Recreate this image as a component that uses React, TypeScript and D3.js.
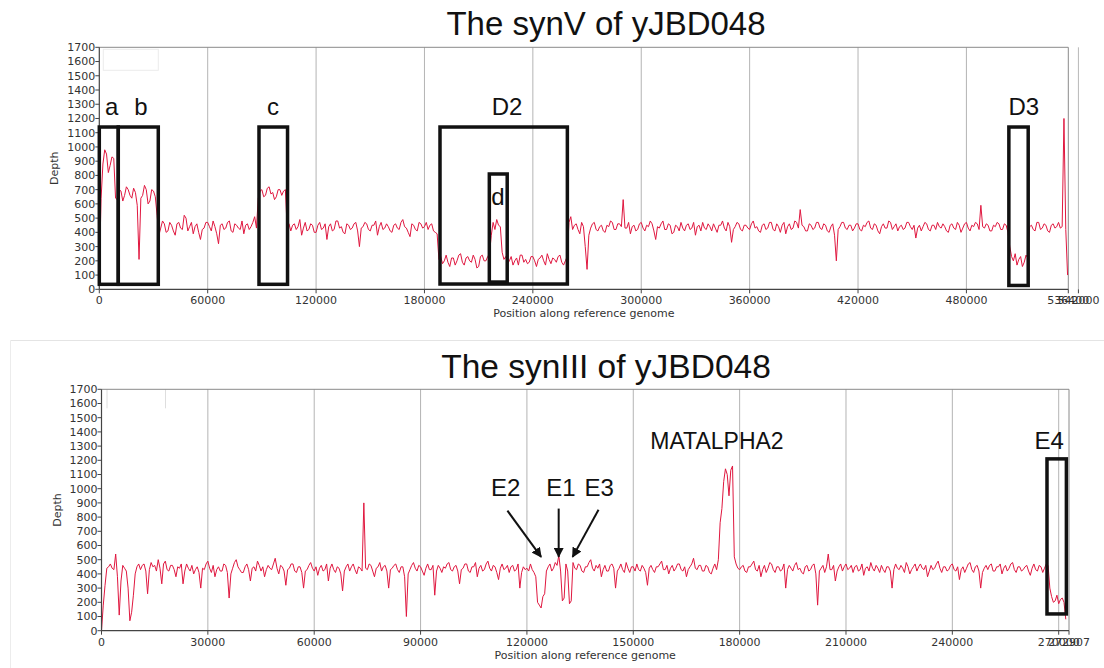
import React from 'react';
import * as d3 from 'd3';

// Shared depth axis
const DEPTH_MAX = 1700;
const DEPTH_TICKS = d3.range(0, DEPTH_MAX + 1, 100);

// synV read depth, one value every 1 kb
const SYNV_STEP = 1000;
const SYNV_LENGTH = 536400;
const synVDepth = [
  120, 640, 880, 980, 950, 820, 870, 930, 920, 640, 630, 700, 690, 620, 660, 720, 700, 660, 640, 710,
  680, 590, 210, 640, 660, 730, 700, 600, 620, 700, 690, 650, 520, 380, 430, 480, 460, 400, 410, 470,
  450, 410, 380, 460, 470, 430, 420, 520, 500, 410, 440, 470, 390, 440, 460, 400, 350, 420, 430, 470,
  470, 440, 410, 480, 440, 390, 320, 450, 460, 420, 430, 470, 480, 410, 400, 460, 450, 430, 420, 480,
  390, 450, 460, 420, 440, 470, 510, 430, 640, 690, 700, 650, 660, 710, 720, 670, 680, 630, 650, 700,
  700, 660, 690, 700, 430, 460, 410, 450, 460, 420, 440, 490, 380, 430, 470, 410, 420, 460, 450, 400,
  400, 450, 470, 420, 430, 460, 350, 440, 460, 410, 420, 480, 480, 430, 440, 400, 390, 460, 450, 420,
  430, 460, 470, 410, 300, 430, 440, 470, 460, 420, 410, 450, 450, 480, 380, 440, 470, 420, 430, 460,
  440, 410, 400, 450, 460, 430, 420, 470, 490, 440, 430, 400, 370, 460, 450, 420, 410, 470, 460, 430,
  440, 470, 420, 450, 460, 410, 400, 390, 210, 230, 180, 200, 240, 190, 160, 220, 220, 170, 200, 240,
  250, 190, 170, 220, 230, 200, 190, 240, 210, 150, 160, 230, 240, 200, 200, 230, 250, 380, 470, 420,
  490, 450, 440, 260, 210, 230, 180, 200, 230, 170, 200, 220, 170, 240, 240, 190, 210, 180, 190, 230,
  230, 200, 160, 210, 220, 240, 200, 170, 250, 210, 180, 220, 210, 190, 230, 240, 190, 170, 200, 230,
  470, 510, 420, 450, 460, 420, 390, 470, 440, 300, 140, 380, 430, 460, 470, 420, 410, 440, 450, 410,
  400, 450, 440, 480, 470, 420, 420, 460, 460, 440, 630, 430, 430, 470, 390, 440, 450, 410, 420, 460,
  470, 430, 410, 450, 440, 480, 460, 410, 350, 440, 430, 460, 480, 420, 420, 460, 450, 390, 400, 450,
  440, 410, 470, 430, 410, 450, 460, 420, 430, 470, 380, 440, 450, 410, 470, 430, 420, 460, 440, 410,
  460, 430, 400, 450, 450, 480, 430, 410, 470, 440, 330, 420, 440, 470, 460, 420, 410, 450, 450, 430,
  420, 460, 480, 430, 440, 410, 400, 450, 460, 420, 430, 470, 470, 420, 410, 460, 440, 400, 450, 470,
  390, 440, 460, 420, 430, 480, 470, 430, 560, 450, 440, 410, 410, 460, 450, 420, 430, 470, 470, 430,
  420, 460, 450, 410, 400, 440, 460, 380, 200, 420, 440, 470, 470, 430, 420, 450, 450, 410, 430, 460,
  460, 420, 410, 450, 440, 470, 480, 430, 420, 460, 450, 410, 390, 440, 460, 430, 430, 480, 470, 420,
  440, 460, 410, 440, 450, 420, 430, 470, 470, 440, 420, 450, 360, 430, 450, 410, 440, 470, 460, 420,
  410, 450, 450, 420, 470, 440, 430, 460, 440, 410, 400, 450, 460, 430, 420, 470, 450, 400, 430, 460,
  470, 430, 410, 450, 440, 470, 460, 420, 590, 440, 430, 460, 450, 410, 410, 450, 440, 470, 460, 420,
  420, 460, 450, 400, 300, 230, 200, 250, 170, 210, 230, 160, 190, 240, 220, 440, 450, 420, 410, 470,
  470, 420, 430, 460, 450, 410, 400, 450, 460, 430, 440, 470, 430, 440, 1200, 420, 100,
];
const synVTicks = [0, 60000, 120000, 180000, 240000, 300000, 360000, 420000, 480000];
const synVEndTicks = [536400, 542000];
const synVBoxes = [
  { label: 'a', start: 0, end: 10500, top: 1140, bottom: 35, labelPos: 6900, labelDepth: 1224 },
  { label: 'b', start: 10500, end: 32650, top: 1140, bottom: 35, labelPos: 23100, labelDepth: 1224 },
  { label: 'c', start: 88400, end: 104200, top: 1140, bottom: 35, labelPos: 96200, labelDepth: 1224 },
  { label: 'D2', start: 188600, end: 259100, top: 1140, bottom: 37, labelPos: 225700, labelDepth: 1224 },
  { label: 'd', start: 215900, end: 225800, top: 810, bottom: 51, labelPos: 220700, labelDepth: 590 },
  { label: 'D3', start: 503500, end: 514200, top: 1140, bottom: 27, labelPos: 511800, labelDepth: 1224 },
];

// synIII read depth, one value every 500 bp
const SYNIII_STEP = 500;
const SYNIII_LENGTH = 272907;
const synIIIDepth = [
  0, 180, 320, 440, 450, 470, 440, 430, 540, 380, 110, 350, 460, 440, 420, 300, 70, 130, 250, 400,
  450, 470, 430, 460, 470, 420, 260, 430, 480, 450, 460, 420, 500, 440, 330, 470, 490, 430, 420, 460,
  460, 430, 380, 450, 440, 470, 330, 420, 470, 440, 420, 460, 400, 430, 450, 410, 300, 440, 430, 470,
  490, 440, 410, 460, 380, 430, 450, 420, 420, 470, 460, 410, 230, 400, 440, 480, 500, 450, 430, 410,
  410, 450, 470, 430, 350, 440, 450, 420, 490, 460, 420, 450, 380, 430, 460, 440, 430, 470, 510, 440,
  400, 460, 450, 420, 320, 430, 440, 470, 470, 420, 410, 450, 450, 410, 300, 420, 430, 460, 480, 440,
  420, 450, 390, 440, 460, 420, 430, 470, 350, 440, 470, 430, 410, 450, 440, 400, 280, 420, 450, 470,
  420, 450, 470, 430, 400, 450, 440, 420, 900, 440, 430, 470, 460, 420, 380, 440, 450, 480, 420, 450,
  460, 420, 300, 430, 440, 460, 470, 430, 410, 450, 450, 380, 100, 400, 430, 460, 480, 440, 420, 460,
  450, 420, 390, 440, 470, 430, 430, 460, 250, 420, 460, 440, 410, 450, 440, 470, 480, 430, 420, 450,
  460, 420, 330, 430, 440, 470, 470, 420, 410, 450, 450, 480, 380, 440, 460, 420, 430, 470, 490, 440,
  420, 460, 450, 410, 360, 440, 470, 430, 440, 460, 410, 450, 460, 420, 430, 470, 300, 410, 450, 430,
  440, 420, 470, 430, 410, 380, 200, 180, 160, 240, 260, 420, 450, 470, 420, 440, 480, 460, 530, 420,
  210, 230, 470, 420, 190, 210, 480, 440, 430, 470, 460, 420, 410, 450, 450, 480, 500, 440, 420, 460,
  440, 470, 380, 430, 460, 420, 420, 460, 470, 440, 300, 420, 440, 470, 430, 410, 480, 440, 410, 450,
  450, 420, 470, 430, 420, 460, 440, 410, 320, 440, 460, 430, 410, 450, 450, 470, 490, 430, 430, 460,
  400, 440, 460, 420, 440, 470, 470, 430, 420, 450, 380, 430, 450, 470, 510, 440, 430, 460, 460, 420,
  420, 460, 450, 410, 400, 440, 470, 430, 500, 760, 860, 1050, 1140, 1100, 950, 1130, 1160, 520, 470, 440,
  430, 450, 460, 420, 410, 450, 450, 470, 490, 430, 420, 460, 380, 430, 460, 410, 440, 480, 470, 430,
  410, 450, 450, 420, 430, 470, 300, 430, 460, 440, 420, 460, 480, 430, 440, 410, 400, 450, 460, 420,
  430, 460, 470, 400, 180, 420, 440, 460, 410, 450, 540, 430, 430, 460, 350, 420, 450, 470, 420, 450,
  470, 430, 440, 460, 410, 450, 460, 420, 430, 470, 390, 440, 450, 420, 480, 440, 420, 460, 440, 410,
  460, 430, 410, 450, 450, 420, 300, 430, 470, 440, 430, 460, 440, 410, 480, 450, 400, 430, 450, 470,
  420, 450, 470, 440, 430, 460, 380, 420, 460, 430, 440, 470, 490, 440, 410, 450, 450, 420, 430, 460,
  470, 430, 420, 450, 360, 430, 450, 410, 440, 470, 480, 430, 410, 450, 460, 420, 300, 410, 440, 460,
  430, 460, 470, 420, 420, 450, 450, 470, 400, 440, 460, 420, 440, 470, 480, 430, 410, 450, 450, 420,
  430, 450, 460, 420, 390, 440, 470, 430, 420, 460, 450, 410, 440, 470, 460, 300, 240, 200, 210, 250,
  190, 220, 230, 200, 80,
];
const synIIITicks = [0, 30000, 60000, 90000, 120000, 150000, 180000, 210000, 240000, 270000];
const synIIIEndTicks = [272907];
const synIIIBoxes = [
  { label: 'E4', start: 266700, end: 272170, top: 1210, bottom: 118, labelPos: 267300, labelDepth: 1280 },
];
// Arrow call-outs: text anchor, arrow tail and arrow tip (position, depth)
const synIIIArrows = [
  { label: 'E2', textPos: 114000, textDepth: 948, fromPos: 114500, fromDepth: 845, toPos: 124000, toDepth: 520 },
  { label: 'E1', textPos: 129600, textDepth: 948, fromPos: 128960, fromDepth: 860, toPos: 128960, toDepth: 520 },
  { label: 'E3', textPos: 140400, textDepth: 948, fromPos: 140200, fromDepth: 852, toPos: 132900, toDepth: 520 },
];
const synIIINotes = [{ text: 'MATALPHA2', pos: 154800, depth: 1280 }];

const TICK_FONT = '"DejaVu Sans", Verdana, sans-serif';
const LABEL_FONT = '"Liberation Sans", Arial, Helvetica, sans-serif';
const LINE_COLOR = '#e0173f';

type Box = { label: string; start: number; end: number; top: number; bottom: number; labelPos: number; labelDepth: number };
type Arrow = { label: string; textPos: number; textDepth: number; fromPos: number; fromDepth: number; toPos: number; toDepth: number };

type PanelProps = {
  title: string;
  titleY: number;
  titleSize: number;
  left: number;
  right: number;
  top: number;
  bottom: number;
  length: number;
  step: number;
  values: number[];
  ticks: number[];
  endTicks: number[];
  boxes: Box[];
  arrows?: Arrow[];
  notes?: { text: string; pos: number; depth: number }[];
  legend: 'box' | 'stubs';
};

function Panel(p: PanelProps) {
  const x = d3.scaleLinear().domain([0, p.length]).range([p.left, p.right]);
  const y = d3.scaleLinear().domain([0, DEPTH_MAX]).range([p.bottom, p.top]);
  const path = d3
    .line<number>()
    .x((_, i) => x(Math.min(i * p.step, p.length)))
    .y((d) => y(d))(p.values) as string;
  const cx = (p.left + p.right) / 2;
  const cy = (p.top + p.bottom) / 2;
  const extraTicks = p.endTicks.filter((t) => t > p.length);

  return (
    <g>
      <text x={606} y={p.titleY} textAnchor="middle" fontFamily={LABEL_FONT} fontSize={p.titleSize} fill="#111">
        {p.title}
      </text>

      {/* grid */}
      {p.ticks.filter((t) => t > 0).map((t) => (
        <line key={'g' + t} x1={x(t)} x2={x(t)} y1={p.top} y2={p.bottom} stroke="#b4b4b4" strokeWidth={1} />
      ))}
      {extraTicks.map((t) => (
        <line key={'e' + t} x1={x(t)} x2={x(t)} y1={p.top} y2={p.bottom} stroke="#b8b8b8" strokeWidth={1} />
      ))}

      {/* legend remnants */}
      {p.legend === 'box' ? (
        <rect x={p.left + 4} y={p.top + 2} width={55} height={21} fill="#fff" stroke="#ececec" strokeWidth={1} />
      ) : (
        <g stroke="#dedede" strokeWidth={1}>
          <line x1={p.left + 5.5} x2={p.left + 5.5} y1={p.top} y2={p.top + 19} />
          <line x1={p.left + 64} x2={p.left + 64} y1={p.top} y2={p.top + 19} />
        </g>
      )}

      {/* frame */}
      <line x1={p.left} x2={p.right} y1={p.top} y2={p.top} stroke="#8a8a8a" strokeWidth={1} />
      <line x1={p.right} x2={p.right} y1={p.top} y2={p.bottom} stroke="#8a8a8a" strokeWidth={1} />

      {/* coverage trace */}
      <path d={path} fill="none" stroke={LINE_COLOR} strokeWidth={1} strokeLinejoin="round" />

      {/* axes */}
      <line x1={p.left} x2={p.left} y1={p.top} y2={p.bottom} stroke="#444" strokeWidth={1.2} />
      <line x1={p.left} x2={p.right} y1={p.bottom} y2={p.bottom} stroke="#444" strokeWidth={1.2} />
      {DEPTH_TICKS.map((t) => (
        <g key={'y' + t}>
          <line x1={p.left - 4} x2={p.left} y1={y(t)} y2={y(t)} stroke="#444" strokeWidth={1} />
          <text x={p.left - 4} y={y(t)} dy="0.36em" textAnchor="end" fontFamily={TICK_FONT} fontSize={11} fill="#333">
            {t}
          </text>
        </g>
      ))}
      {[...p.ticks, ...p.endTicks].map((t) => (
        <g key={'x' + t}>
          <line x1={x(t)} x2={x(t)} y1={p.bottom} y2={p.bottom + 4} stroke="#444" strokeWidth={1} />
          <text x={x(t)} y={p.bottom + 15} textAnchor="middle" fontFamily={TICK_FONT} fontSize={11} fill="#333">
            {t}
          </text>
        </g>
      ))}
      <text x={cx} y={p.bottom + 28} textAnchor="middle" fontFamily={TICK_FONT} fontSize={11} fill="#333">
        Position along reference genome
      </text>
      <text
        transform={`translate(${p.left - 41},${cy}) rotate(-90)`}
        textAnchor="middle"
        fontFamily={TICK_FONT}
        fontSize={11}
        fill="#333"
      >
        Depth
      </text>

      {/* region boxes */}
      {p.boxes.map((b) => (
        <g key={b.label}>
          <rect
            x={x(b.start)}
            y={y(b.top)}
            width={x(b.end) - x(b.start)}
            height={y(b.bottom) - y(b.top)}
            fill="none"
            stroke="#111"
            strokeWidth={3.5}
          />
          <text x={x(b.labelPos)} y={y(b.labelDepth)} textAnchor="middle" fontFamily={LABEL_FONT} fontSize={24} fill="#111">
            {b.label}
          </text>
        </g>
      ))}

      {(p.arrows || []).map((a) => (
        <g key={a.label}>
          <line
            x1={x(a.fromPos)}
            y1={y(a.fromDepth)}
            x2={x(a.toPos)}
            y2={y(a.toDepth)}
            stroke="#111"
            strokeWidth={2}
            markerEnd="url(#arrowHead)"
          />
          <text x={x(a.textPos)} y={y(a.textDepth)} textAnchor="middle" fontFamily={LABEL_FONT} fontSize={24} fill="#111">
            {a.label}
          </text>
        </g>
      ))}

      {(p.notes || []).map((n) => (
        <text key={n.text} x={x(n.pos)} y={y(n.depth)} fontFamily={LABEL_FONT} fontSize={23} fill="#111">
          {n.text}
        </text>
      ))}
    </g>
  );
}

export default function App() {
  return (
    <svg
      width={1104}
      height={668}
      viewBox="0 0 1104 668"
      style={{ position: 'absolute', left: 0, top: 0, background: '#fff' }}
    >
      <defs>
        <marker id="arrowHead" viewBox="0 0 10 10" refX={9} refY={5} markerWidth={5} markerHeight={5} orient="auto">
          <path d="M0,0 L10,5 L0,10 Z" fill="#111" />
        </marker>
      </defs>
      <rect x={0} y={0} width={1104} height={668} fill="#fff" />

      {/* divider around the lower panel */}
      <line x1={10.5} x2={1104} y1={340.5} y2={340.5} stroke="#e4e4e4" strokeWidth={1} />
      <line x1={10.5} x2={10.5} y1={340.5} y2={668} stroke="#ececec" strokeWidth={1} />

      <Panel
        title="The synV of yJBD048"
        titleY={35}
        titleSize={33}
        left={99.3}
        right={1068.3}
        top={47.3}
        bottom={289.3}
        length={SYNV_LENGTH}
        step={SYNV_STEP}
        values={synVDepth}
        ticks={synVTicks}
        endTicks={synVEndTicks}
        boxes={synVBoxes}
        legend="box"
      />
      <Panel
        title="The synIII of yJBD048"
        titleY={378}
        titleSize={33.5}
        left={101.5}
        right={1069}
        top={389.3}
        bottom={630.7}
        length={SYNIII_LENGTH}
        step={SYNIII_STEP}
        values={synIIIDepth}
        ticks={synIIITicks}
        endTicks={synIIIEndTicks}
        boxes={synIIIBoxes}
        arrows={synIIIArrows}
        notes={synIIINotes}
        legend="stubs"
      />
    </svg>
  );
}
